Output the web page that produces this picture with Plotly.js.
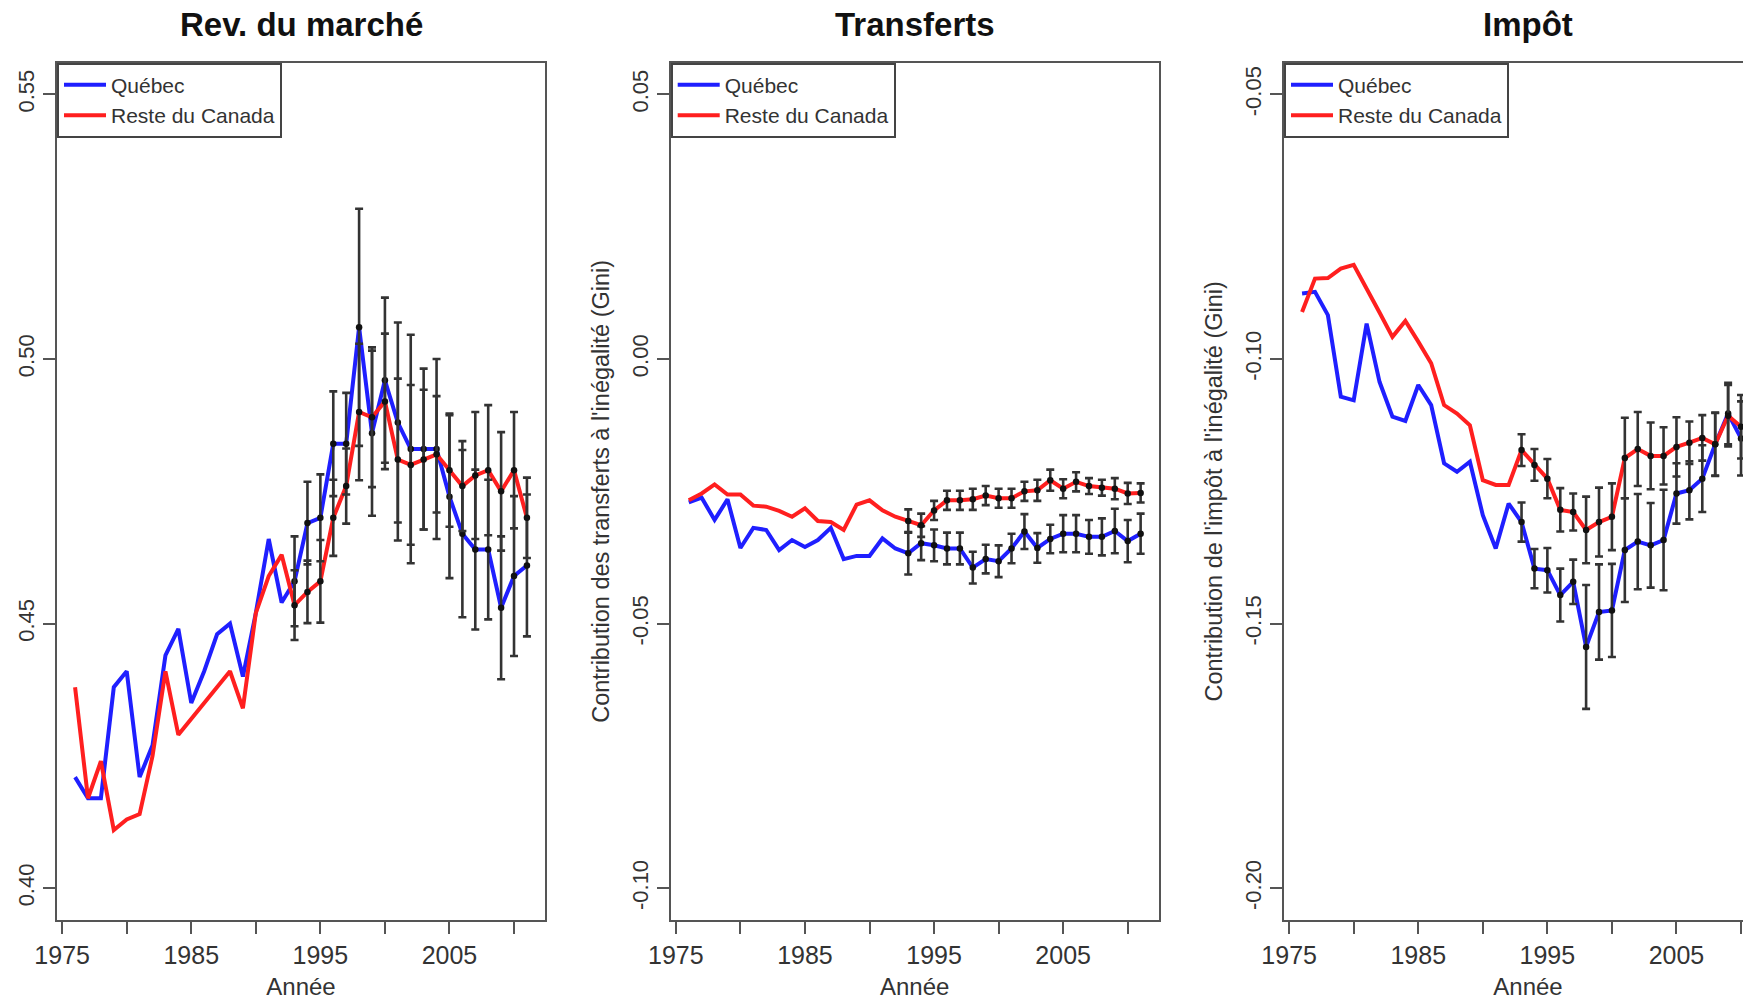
<!DOCTYPE html>
<html>
<head>
<meta charset="utf-8">
<script src="https://cdn.plot.ly/plotly-3.0.1.min.js"></script>
<style>
  html, body { margin: 0; padding: 0; overflow: hidden; background: #fff; }
  #chart { width: 1800px; height: 1001px; }
</style>
</head>
<body>
<div id="chart"></div>
<script>
// ---------- data ----------
const years = [1976, 1977, 1978, 1979, 1980, 1981, 1982, 1983, 1984, 1985, 1986, 1987,
  1988, 1989, 1990, 1991, 1992, 1993, 1994, 1995, 1996, 1997, 1998, 1999, 2000,
  2001, 2002, 2003, 2004, 2005, 2006, 2007, 2008, 2009, 2010, 2011];

const panelTitles = ["Rev. du marché", "Transferts", "Impôt"];
const seriesNames = ["Québec", "Reste du Canada"];
const xTitle = "Année";
const yTitles = ["", "Contribution des transferts à l'inégalité (Gini)", "Contribution de l'impôt à l'inégalité (Gini)"];

const xTickVals = [1975, 1980, 1985, 1990, 1995, 2000, 2005, 2010];
const xTickText = ["1975", "", "1985", "", "1995", "", "2005", ""];

const yTickVals1 = [0.40, 0.45, 0.50, 0.55];
const yTickText1 = ["0.40", "0.45", "0.50", "0.55"];
const yTickVals2 = [-0.10, -0.05, 0.00, 0.05];
const yTickText2 = ["-0.10", "-0.05", "0.00", "0.05"];
const yTickVals3 = [-0.20, -0.15, -0.10, -0.05];
const yTickText3 = ["-0.20", "-0.15", "-0.10", "-0.05"];

// Panel 1: Rev. du marché
const qcMarket = [0.421, 0.417, 0.417, 0.438, 0.441, 0.421, 0.427, 0.444, 0.449, 0.435, 0.441, 0.448,
  0.450, 0.440, 0.452, 0.466, 0.454, 0.458, 0.469, 0.470, 0.484, 0.484, 0.506, 0.486, 0.496,
  0.488, 0.483, 0.483, 0.483, 0.474, 0.467, 0.464, 0.464, 0.453, 0.459, 0.461];
const rocMarket = [0.438, 0.417, 0.424, 0.411, 0.413, 0.414, 0.425, 0.441, 0.429, 0.432, 0.435, 0.438,
  0.441, 0.434, 0.452, 0.459, 0.463, 0.4535, 0.456, 0.458, 0.470, 0.476, 0.490, 0.489, 0.492,
  0.481, 0.480, 0.481, 0.482, 0.479, 0.476, 0.478, 0.479, 0.475, 0.479, 0.470];
const qcMarketErr = [0.0085, 0.0078, 0.0082, 0.0099, 0.0096, 0.0224, 0.0156, 0.0156, 0.0189, 0.0216,
  0.0152, 0.0170, 0.0154, 0.0158, 0.0151, 0.0132, 0.0135, 0.0151, 0.0134];
const rocMarketErr = [0.0066, 0.0059, 0.0078, 0.0072, 0.0071, 0.0129, 0.0132, 0.0128, 0.0153, 0.0151,
  0.0132, 0.0110, 0.0107, 0.0085, 0.0120, 0.0123, 0.0112, 0.0110, 0.0076];

// Panel 2: Transferts
const qcTransfer = [-0.0271, -0.0262, -0.0304, -0.0265, -0.0357, -0.0319, -0.0323, -0.0361, -0.0342,
  -0.0355, -0.0342, -0.0319, -0.0378, -0.0372, -0.0372, -0.0339, -0.0358, -0.0367, -0.0348, -0.0352,
  -0.0358, -0.0358, -0.0394, -0.0378, -0.0382, -0.0358, -0.0326, -0.0357, -0.0340, -0.0330, -0.0330,
  -0.0336, -0.0336, -0.0325, -0.0344, -0.0330];
const rocTransfer = [-0.0267, -0.0254, -0.0237, -0.0256, -0.0256, -0.0277, -0.0279, -0.0287, -0.0298,
  -0.0282, -0.0306, -0.0308, -0.0323, -0.0275, -0.0267, -0.0286, -0.0298, -0.0306, -0.0314, -0.0286,
  -0.0267, -0.0267, -0.0265, -0.0258, -0.0263, -0.0263, -0.0250, -0.0248, -0.0229, -0.0245, -0.0232,
  -0.0240, -0.0243, -0.0245, -0.0254, -0.0253];
const qcTransferErr = [0.0040, 0.0032, 0.0030, 0.0030, 0.0030, 0.0030, 0.0027, 0.0030, 0.0028, 0.0033,
  0.0028, 0.0027, 0.0035, 0.0035, 0.0032, 0.0035, 0.0042, 0.0040, 0.0038];
const rocTransferErr = [0.0022, 0.0022, 0.0018, 0.0018, 0.0018, 0.0020, 0.0018, 0.0018, 0.0018, 0.0018,
  0.0020, 0.0020, 0.0018, 0.0018, 0.0015, 0.0015, 0.0020, 0.0020, 0.0018];

// Panel 3: Impôt (visible up to 2010)
const qcTax = [-0.0876, -0.0873, -0.0917, -0.1071, -0.1078, -0.0933, -0.1043, -0.1109, -0.1117, -0.1049,
  -0.1087, -0.1197, -0.1213, -0.1194, -0.1295, -0.1358, -0.1273, -0.1308, -0.1396, -0.1399, -0.1446,
  -0.1421, -0.1544, -0.1478, -0.1475, -0.1361, -0.1345, -0.1352, -0.1342, -0.1254, -0.1248, -0.1226,
  -0.1161, -0.1103, -0.1150];
const rocTax = [-0.0911, -0.0848, -0.0847, -0.0829, -0.0822, -0.0866, -0.0912, -0.0958, -0.0928, -0.0967,
  -0.1008, -0.1087, -0.1103, -0.1125, -0.1229, -0.1238, -0.1238, -0.1172, -0.1200, -0.1226, -0.1285,
  -0.1289, -0.1323, -0.1308, -0.1298, -0.1187, -0.1170, -0.1183, -0.1183, -0.1166, -0.1158, -0.1149,
  -0.1161, -0.1107, -0.1128];
const qcTaxErr = [0.0037, 0.0037, 0.0042, 0.0050, 0.0042, 0.0117, 0.0090, 0.0088, 0.0098, 0.0090,
  0.0080, 0.0095, 0.0057, 0.0055, 0.0063, 0.0060, 0.0058, 0.0070];
const rocTaxErr = [0.0030, 0.0030, 0.0037, 0.0041, 0.0035, 0.0063, 0.0065, 0.0063, 0.0076, 0.0070,
  0.0063, 0.0054, 0.0056, 0.0040, 0.0043, 0.0059, 0.0058, 0.0060];

const errStartYear = 1993;

// ---------- build ----------
const BLUE = "#1f1fff", RED = "#ff1f1f";
const FONT = "Liberation Sans, Arial, sans-serif";
const W = 1800, H = 1001;

const panels = [
  { qc: qcMarket, roc: rocMarket, qcErr: qcMarketErr, rocErr: rocMarketErr,
    yr: [0.394, 0.556], tv: yTickVals1, tt: yTickText1 },
  { qc: qcTransfer, roc: rocTransfer, qcErr: qcTransferErr, rocErr: rocTransferErr,
    yr: [-0.106, 0.056], tv: yTickVals2, tt: yTickText2 },
  { qc: qcTax, roc: rocTax, qcErr: qcTaxErr, rocErr: rocTaxErr,
    yr: [-0.206, -0.044], tv: yTickVals3, tt: yTickText3 }
];

const boxLeft = [57, 670.7, 1284];
const boxWidth = 488;
const boxTop = 62.7, boxBottom = 920;
const yDomain = [1 - boxBottom / H, 1 - boxTop / H];

const traces = [];
const layout = {
  width: W, height: H,
  margin: { l: 0, r: 0, t: 0, b: 0 },
  paper_bgcolor: "#fff", plot_bgcolor: "#fff",
  font: { family: FONT, color: "#333" },
  hovermode: false,
  annotations: []
};

panels.forEach((p, i) => {
  const n = i + 1;
  const xa = n === 1 ? "x" : "x" + n;
  const ya = n === 1 ? "y" : "y" + n;
  const lg = n === 1 ? "legend" : "legend" + n;
  const yrs = years.slice(0, p.qc.length);
  const i0 = years.indexOf(errStartYear);
  const errYears = yrs.slice(i0);

  traces.push({ type: "scatter", mode: "lines", x: yrs, y: p.qc, name: seriesNames[0],
    line: { color: BLUE, width: 4 }, xaxis: xa, yaxis: ya, legend: lg });
  traces.push({ type: "scatter", mode: "lines", x: yrs, y: p.roc, name: seriesNames[1],
    line: { color: RED, width: 4 }, xaxis: xa, yaxis: ya, legend: lg });
  [[p.qc, p.qcErr], [p.roc, p.rocErr]].forEach(([vals, errs]) => {
    traces.push({ type: "scatter", mode: "markers", x: errYears, y: vals.slice(i0),
      marker: { color: "#111", size: 6.5 },
      error_y: { type: "data", array: errs, visible: true, color: "#333", thickness: 2.6, width: 4 },
      xaxis: xa, yaxis: ya, showlegend: false });
  });

  const axisCommon = {
    showline: true, mirror: true, linecolor: "#555", linewidth: 2,
    ticks: "outside", ticklen: 12, tickwidth: 2, tickcolor: "#555",
    showgrid: false, zeroline: false
  };
  layout["xaxis" + (n === 1 ? "" : n)] = Object.assign({}, axisCommon, {
    anchor: ya,
    domain: [boxLeft[i] / W, (boxLeft[i] + boxWidth) / W],
    range: [1974.6, 2012.4],
    tickmode: "array", tickvals: xTickVals, ticktext: xTickText,
    tickfont: { family: FONT, size: 25, color: "#333" },
    title: { text: xTitle, font: { family: FONT, size: 24, color: "#333" }, standoff: 10 }
  });
  layout["yaxis" + (n === 1 ? "" : n)] = Object.assign({}, axisCommon, {
    anchor: xa,
    domain: yDomain,
    range: p.yr,
    tickmode: "array", tickvals: p.tv, ticktext: p.tt,
    tickangle: -90,
    tickfont: { family: FONT, size: 22, color: "#333" },
    title: { text: yTitles[i], font: { family: FONT, size: 23.5, color: "#333" }, standoff: 12 }
  });
  layout[lg] = {
    x: boxLeft[i] / W, y: yDomain[1], xanchor: "left", yanchor: "top",
    bgcolor: "#fff", bordercolor: "#444", borderwidth: 2,
    font: { family: FONT, size: 21, color: "#333" },
    tracegroupgap: 0, itemwidth: 42
  };
  layout.annotations.push({
    xref: xa + " domain", yref: "paper", x: 0.5, y: 1 - 24.5 / H,
    xanchor: "center", yanchor: "middle", showarrow: false,
    text: "<b>" + panelTitles[i] + "</b>",
    font: { family: FONT, size: 33, color: "#111" }
  });
});

Plotly.newPlot("chart", traces, layout, { staticPlot: true, displayModeBar: false });
</script>
</body>
</html>
